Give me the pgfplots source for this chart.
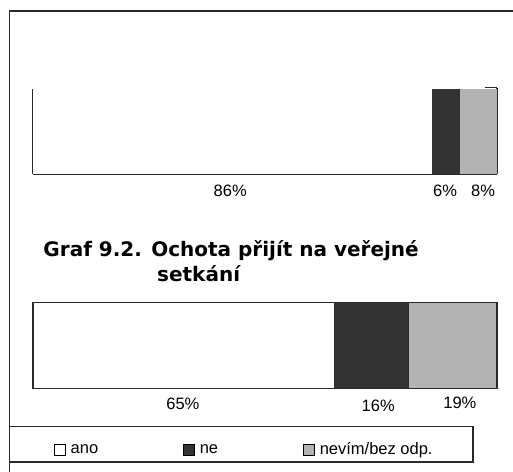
\documentclass[border=0pt]{standalone}
\usepackage{pgfplots}
\pgfplotsset{compat=1.18}
\usepackage{fontspec}
\setmainfont{Liberation Sans}
\newfontfamily\titlefont{DejaVu Sans}
\definecolor{dk}{HTML}{333333}
\definecolor{gr}{HTML}{B3B3B3}
\definecolor{fr}{HTML}{2A2A2A}
\pgfplotsset{
 mybar/.style={
  xbar stacked, scale only axis, width=464bp,
  xmin=0, xmax=100, ymin=-0.5, ymax=0.5, bar width=1,
  ytick=\empty, major tick length=0pt,
  /pgf/number format/assume math mode=true,
  tick label style={font=\fontsize{16.5bp}{19bp}\selectfont, anchor=base},
  clip=false,
 }
}
\begin{document}
\begin{tikzpicture}[x=1bp,y=1bp]
\useasboundingbox (0,0) rectangle (513,472);
\draw[fr, line width=1.3bp] (9.5,0) -- (9.5,461) -- (513,461);

% top chart
\begin{axis}[mybar, height=85bp, at={(33bp,298bp)}, anchor=south west,
  axis x line*=bottom, axis y line*=left,
  axis line style={line width=1.2bp, fr},
  xtick={42.5,88.8,97}, xticklabels={86\%,6\%,8\%},
  xticklabel style={yshift=-22.7bp}]
\addplot[fill=white, draw=none] coordinates {(86,0)};
\addplot[fill=dk, draw=none] coordinates {(6,0)};
\addplot[fill=gr, draw=none] coordinates {(8,0)};
\draw[white!85!black, line width=0.8bp] (axis cs:92,-0.5) -- (axis cs:92,0.5);
\draw[fr, line width=1.2bp] (axis cs:100,-0.5) -- (axis cs:100,0.515);
\draw[fr, line width=1.2bp] (axis cs:97.4,0.515) -- (axis cs:100,0.515);
\end{axis}

% title
\node[anchor=base west, inner sep=0pt, font=\titlefont\fontsize{20bp}{24bp}\bfseries] at (43.3,215.3) {Graf 9.2. Ochota přijít na veřejné};
\node[anchor=base west, inner sep=0pt, font=\titlefont\fontsize{20bp}{24bp}\bfseries] at (157,190.3) {setkání};

% bottom chart
\begin{axis}[mybar, height=86bp, at={(33bp,83.7bp)}, anchor=south west,
  axis x line*=bottom, axis y line=none,
  axis line style={draw=none},
  xtick={32.3,74.4,92}, xticklabels={65\%,\raisebox{-2.4bp}{16\%},\raisebox{1bp}{19\%}},
  xticklabel style={yshift=-21bp},
  legend columns=3,
  legend image code/.code={\draw[#1, draw=black, line width=0.6bp] (0bp,-5.5bp) rectangle (11bp,5.5bp);},
  legend style={draw=none, fill=none, at={(axis description cs:0.045,-0.71)}, anchor=west,
    inner xsep=0pt, inner ysep=0pt, font=\fontsize{16.5bp}{19bp}\selectfont,
    nodes={inner sep=0pt},
    /tikz/every odd column/.append style={column sep=5bp},
    /tikz/every even column/.append style={column sep=85bp}},
  legend cell align=left]
\addplot[fill=white, draw=fr, line width=1.2bp] coordinates {(65,0)};
\addplot[fill=dk, draw=fr, line width=1.2bp] coordinates {(16,0)};
\addplot[fill=gr, draw=fr, line width=1.2bp] coordinates {(19,0)};
\draw[white!80!black, line width=0.8bp] (axis cs:81.15,-0.49) -- (axis cs:81.15,0.49);
\legend{ano,ne,nevím/bez odp.}
\end{axis}

\draw[fr, line width=1.2bp] (9.5,10) rectangle (473,45.3);
\end{tikzpicture}
\end{document}
